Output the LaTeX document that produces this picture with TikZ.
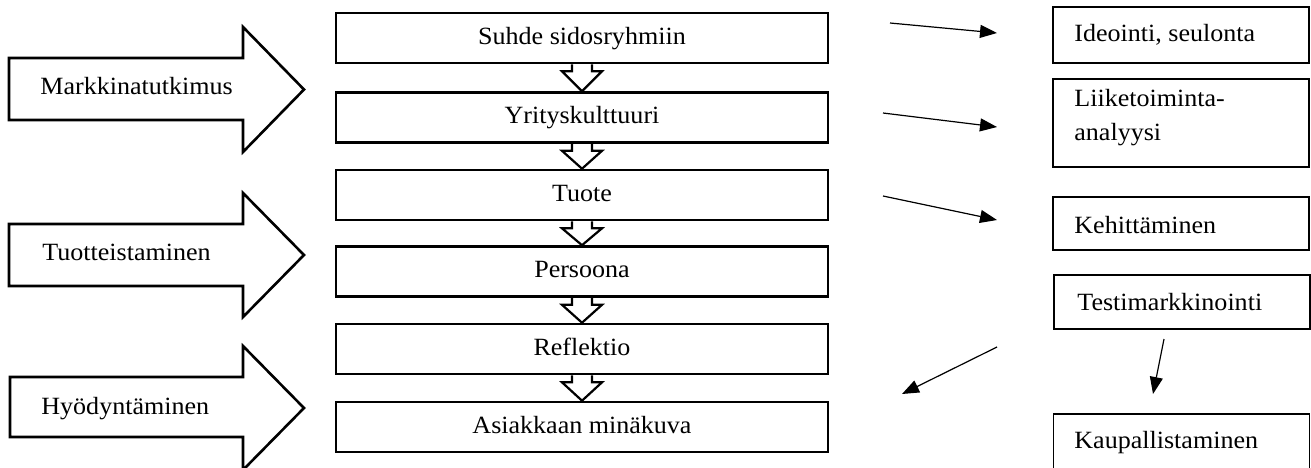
\documentclass[tikz,border=0pt]{standalone}
\usepackage{fontspec}
\setmainfont{Liberation Serif}[FakeStretch=1.05]
\usetikzlibrary{arrows.meta,calc}
\begin{document}
\begin{tikzpicture}[x=0.5pt,y=-0.5pt,
  font=\fontsize{12.4}{17}\selectfont,
  cbox/.style={draw, line width=1.3pt, minimum width=246pt, minimum height=25pt, inner sep=0pt, text height=8pt, text depth=2pt},
  rbox/.style={draw, line width=0.65pt, minimum width=128pt, inner sep=0pt},
  bigarrow/.style={draw, line width=1.3pt, line join=miter, fill=white},
  downarrow/.style={draw, line width=1.1pt, line join=miter},
  thinarrow/.style={line width=0.6pt, -{Triangle[length=8.5pt,width=6.5pt]}},
  lbl/.style={anchor=base west, inner sep=0pt, align=left}]
\useasboundingbox (0,0) rectangle (1311,467);
\clip (0,0) rectangle (1311,467);

% big left arrows
\draw[bigarrow] (9,58) -- (243,58) -- (243,27) -- (304,89.5) -- (243,152) -- (243,120) -- (9,120) -- cycle;
\draw[bigarrow] (9,224) -- (243,224) -- (243,193) -- (304,255) -- (243,317) -- (243,286) -- (9,286) -- cycle;
\draw[bigarrow] (10,377) -- (243,377) -- (243,346) -- (304,408) -- (243,470) -- (243,437) -- (10,437) -- cycle;
\node[lbl] (m1) at (40,94) {Markkinatutkimus};
\node[lbl] (m2) at (42,260) {Tuotteistaminen};
\node[lbl] (m3) at (41,414) {Hyödyntäminen};

% center boxes
\node[cbox] (b1) at (582,38) {Suhde sidosryhmiin};
\node[cbox] (b2) at (582,117.5) {Yrityskulttuuri};
\node[cbox] (b3) at (582,195) {Tuote};
\node[cbox] (b4) at (582,271.5) {Persoona};
\node[cbox] (b5) at (582,349) {Reflektio};
\node[cbox] (b6) at (582,427) {Asiakkaan minäkuva};

\foreach \a/\b in {b1/b2,b2/b3,b3/b4,b4/b5,b5/b6}
  \draw[downarrow] ($(\a.south)+(-10,0)$) -- ($(\a.south)+(-10,7)$) -- ($(\a.south)+(-20,7)$)
    -- (\b.north) -- ($(\a.south)+(20,7)$) -- ($(\a.south)+(10,7)$) -- ($(\a.south)+(10,0)$);

% right boxes
\node[rbox, minimum height=28pt] (r1) at (1181,35) {};
\node[rbox, minimum height=44pt] (r2) at (1181,123) {};
\node[rbox, minimum height=26.5pt] (r3) at (1181,223.5) {};
\node[rbox, minimum height=27pt] (r4) at (1182,302) {};
\node[rbox, minimum height=33pt] (r5) at (1181.5,447) {};
\node[lbl] (t1) at (1074,41) {Ideointi, seulonta};
\node[lbl] (t2) at (1074,140) {Liiketoiminta-\\analyysi};
\node[lbl] (t3) at (1074,233) {Kehittäminen};
\node[lbl] (t4) at (1077,310) {Testimarkkinointi};
\node[lbl] (t5) at (1074,448) {Kaupallistaminen};

% thin arrows
\coordinate (a1s) at (890,23);   \coordinate (a1e) at (997,33);
\coordinate (a2s) at (883,113);  \coordinate (a2e) at (997,127);
\coordinate (a3s) at (883,196);  \coordinate (a3e) at (997,220);
\coordinate (a4s) at (997,347);  \coordinate (a4e) at (902,394);
\coordinate (a5s) at (1164,339); \coordinate (a5e) at (1153,394);
\draw[thinarrow] (a1s) -- (a1e);
\draw[thinarrow] (a2s) -- (a2e);
\draw[thinarrow] (a3s) -- (a3e);
\draw[thinarrow] (a4s) -- (a4e);
\draw[thinarrow] (a5s) -- (a5e);
\end{tikzpicture}
\end{document}
